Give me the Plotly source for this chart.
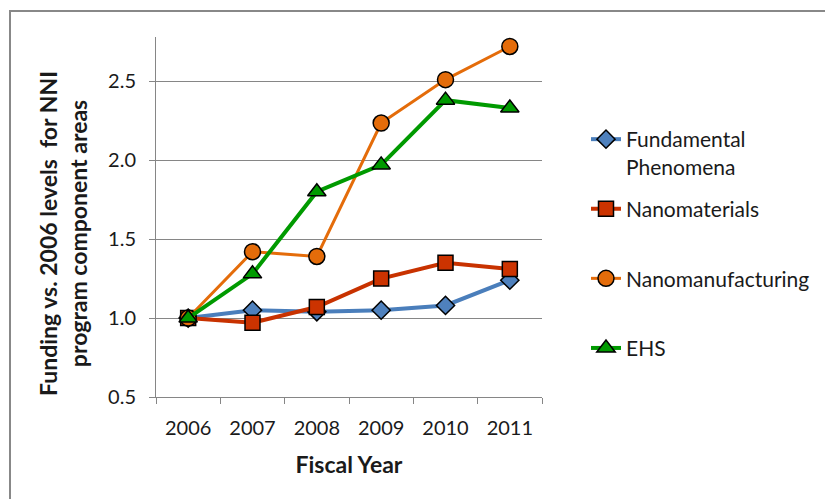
import plotly.graph_objects as go

years = ["2006", "2007", "2008", "2009", "2010", "2011"]
fundamental = [1.00, 1.05, 1.04, 1.05, 1.08, 1.24]
nanomaterials = [1.00, 0.97, 1.07, 1.25, 1.35, 1.31]
nanomanufacturing = [1.00, 1.42, 1.39, 2.235, 2.51, 2.72]
ehs = [1.00, 1.28, 1.80, 1.97, 2.38, 2.33]

series_names = ["Fundamental<br>Phenomena", "Nanomaterials<br> ", "Nanomanufacturing<br> ", "EHS<br> "]
y_ticks = [0.5, 1.0, 1.5, 2.0, 2.5]
y_tick_labels = ["0.5", "1.0", "1.5", "2.0", "2.5"]
y_title = "<b>Funding vs. 2006 levels  for NNI<br>program component areas</b>"
x_title = "<b>Fiscal Year</b>"

FONT = "Lato"

styles = [
    dict(color="#4A7EBB", width=4, symbol="diamond", msize=14, mcolor="#4F81BD"),
    dict(color="#C83200", width=4, symbol="square", msize=15, mcolor="#CC3300"),
    dict(color="#E46C0A", width=3, symbol="circle", msize=16, mcolor="#E46C0A"),
    dict(color="#009A00", width=4, symbol="triangle-up", msize=16, mcolor="#009A00"),
]

fig = go.Figure()
for i, (name, vals) in enumerate(zip(series_names, [fundamental, nanomaterials, nanomanufacturing, ehs])):
    s = styles[i]
    fig.add_trace(go.Scatter(
        x=years, y=vals, name=name, mode="lines+markers",
        legendgroup=f"g{i}",
        line=dict(color=s["color"], width=s["width"]),
        marker=dict(symbol=s["symbol"], size=s["msize"], color=s["mcolor"],
                    line=dict(color="black", width=1.5)),
    ))

# plot area in px: x 156..542, y 37..397
L, R, T, B = 156, 542, 37, 397
W, H = 825, 499
pw, ph = R - L, B - T

def px_x(p):
    return (p - L) / pw

def px_y(p):
    return (B - p) / ph

fig.update_layout(
    width=W, height=H,
    margin=dict(l=L, r=W - R, t=T, b=H - B, autoexpand=False),
    paper_bgcolor="white", plot_bgcolor="white",
    font=dict(family=FONT, size=20, color="#1a1a1a"),
    showlegend=True,
    legend=dict(
        x=px_x(586), y=px_y(119), xanchor="left", yanchor="top",
        traceorder="grouped", tracegroupgap=12, valign="top",
        font=dict(family=FONT, size=21, color="#1a1a1a"),
        bgcolor="rgba(0,0,0,0)",
    ),
    xaxis=dict(
        type="category", range=[-0.5, 5.5], automargin=False,
        showline=True, linecolor="#868686", linewidth=1,
        ticks="outside", tickson="boundaries", ticklen=6, tickcolor="#868686",
        showgrid=False, zeroline=False,
        tickfont=dict(family=FONT, size=20, color="#1a1a1a"),
        ticklabelstandoff=13,
        title=dict(text=x_title, font=dict(family=FONT, size=23, color="#1a1a1a"), standoff=18),
    ),
    yaxis=dict(
        range=[0.5, 2.78], tickvals=y_ticks, ticktext=y_tick_labels, automargin=False,
        showline=True, linecolor="#868686", linewidth=1,
        ticks="outside", ticklen=6, tickcolor="#868686",
        showgrid=True, gridcolor="#868686", gridwidth=1, zeroline=False,
        tickfont=dict(family=FONT, size=20, color="#1a1a1a"),
        ticklabelstandoff=9,
    ),
)

# rotated two-line y-axis title, positioned like the reference
fig.add_annotation(
    text=y_title, textangle=-90, showarrow=False,
    xref="paper", yref="paper", x=px_x(63), y=px_y(234),
    xanchor="center", yanchor="middle",
    font=dict(family=FONT, size=23, color="#1a1a1a"),
)

# chart border (top and left visible, extending beyond window on right/bottom)
fig.add_shape(type="rect", xref="paper", yref="paper",
              x0=px_x(10), x1=px_x(835), y0=px_y(510), y1=px_y(11),
              line=dict(color="#888888", width=2), fillcolor="rgba(0,0,0,0)", layer="below")

fig.write_html("out.html", config={"displayModeBar": False},
               post_script="document.body.style.margin='0';document.body.style.overflow='hidden';")
